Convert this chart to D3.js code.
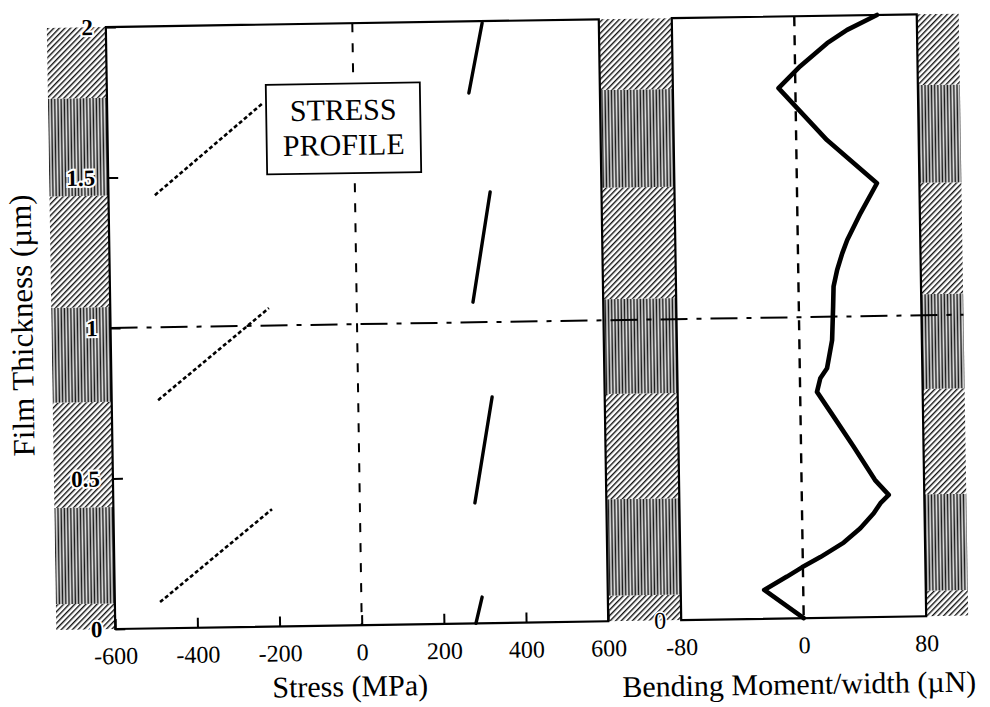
<!DOCTYPE html>
<html>
<head>
<meta charset="utf-8">
<script src="https://cdn.jsdelivr.net/npm/d3@7"></script>
<style>
  html, body { margin: 0; padding: 0; background: #fff; }
  svg { display: block; }
  text { font-family: "Liberation Serif", "Times New Roman", serif; fill: #000; }
</style>
</head>
<body>
<svg id="chart" width="990" height="707"></svg>
<script>
// ---------- data ----------
const stressTicks = [-600, -400, -200, 0, 200, 400, 600];
const thicknessTicks = [0, 0.5, 1, 1.5, 2];
const momentTicks = [-80, 0, 80];
const momentAxisLabels = [0];

// film layers (µm) and their material type
const layerBounds = [0, 0.085, 0.405, 0.755, 1.07, 1.44, 1.765, 2];
const layerType = ["diag", "vert", "diag", "vert", "diag", "vert", "diag"];

// compressive layers: stress (MPa) vs thickness (µm)
const compressiveStart = [[-490, 0.087], [-487, 0.758], [-487, 1.439]];
const compressiveEnd   = [[-214, 0.390], [-214, 1.058], [-220, 1.740]];
// tensile layers
const tensileStart = [[278, 0.0], [280, 0.40], [283, 1.067], [281, 1.762]];
const tensileEnd   = [[294, 0.087], [326, 0.751], [329, 1.432], [316, 1.994]];

// bending moment/width (µN) vs thickness (µm)
const momentDepth = [0, 0.096, 0.139, 0.169, 0.202, 0.249, 0.296, 0.345, 0.378, 0.405,
  0.455, 0.567, 0.668, 0.751, 0.796, 0.829, 0.922, 1.033, 1.100, 1.155, 1.210, 1.254,
  1.342, 1.441, 1.587, 1.762, 1.834, 1.909, 1.952, 2.0];
const momentValue = [0, -25.5, -10.5, -0.6, 11.5, 26.9, 37.9, 46.8, 51.3, 56.8,
  48, 34.4, 21.6, 11.0, 13.3, 17.8, 21.4, 22.4, 22.9, 25.4, 28.9, 32.3,
  41.2, 52.3, 20.1, -11.0, 3.4, 21.2, 34.4, 54];

const boxCorner1 = [-213, 1.80];
const boxCorner2 = [162, 1.502];

// ---------- scales ----------
const xL = d3.scaleLinear().domain([-600, 600]).range([111, 604]);
const xR = d3.scaleLinear().domain([-80, 80]).range([677, 922]);
const y = d3.scaleLinear().domain([0, 2]).range([623, 21]);

const svg = d3.select("#chart");
const defs = svg.append("defs");

// diagonal hatch
const pd = defs.append("pattern").attr("id", "diag")
  .attr("patternUnits", "userSpaceOnUse").attr("width", 4).attr("height", 10)
  .attr("patternTransform", "rotate(45)");
pd.append("rect").attr("width", 4).attr("height", 10).attr("fill", "#fff");
pd.append("rect").attr("x", 0).attr("width", 1.4).attr("height", 10).attr("fill", "#111");

// vertical stripes
const pv = defs.append("pattern").attr("id", "vert")
  .attr("patternUnits", "userSpaceOnUse").attr("width", 3.2).attr("height", 7);
pv.append("rect").attr("width", 3.2).attr("height", 7).attr("fill", "#e0e0e0");
pv.append("rect").attr("x", 0.4).attr("width", 1.5).attr("height", 7).attr("fill", "#1a1a1a");

const g = svg.append("g").attr("transform", "rotate(-0.9,495,353)");

// ---------- hatched film cross-sections ----------
const hatchRegions = [[52, xL(-600)], [xL(600), xR(-80)], [xR(80), 964]];
hatchRegions.forEach(([x0, x1]) => {
  layerType.forEach((t, i) => {
    g.append("rect")
      .attr("x", x0).attr("width", x1 - x0)
      .attr("y", y(layerBounds[i + 1]))
      .attr("height", y(layerBounds[i]) - y(layerBounds[i + 1]))
      .attr("fill", `url(#${t})`);
  });
});

// ---------- left panel ----------
g.append("rect").attr("x", xL(-600)).attr("y", y(2))
  .attr("width", xL(600) - xL(-600)).attr("height", y(0) - y(2))
  .attr("fill", "#fff");

// zero line
g.append("line").attr("x1", xL(0)).attr("x2", xL(0)).attr("y1", y(2)).attr("y2", y(0))
  .attr("stroke", "#000").attr("stroke-width", 2).attr("stroke-dasharray", "9,11");

// compressive segments (dotted)
compressiveStart.forEach((s, i) => {
  const e = compressiveEnd[i];
  g.append("line").attr("x1", xL(s[0])).attr("y1", y(s[1]))
    .attr("x2", xL(e[0])).attr("y2", y(e[1]))
    .attr("stroke", "#000").attr("stroke-width", 2.6).attr("stroke-dasharray", "4,2.5");
});
// tensile segments (solid)
tensileStart.forEach((s, i) => {
  const e = tensileEnd[i];
  g.append("line").attr("x1", xL(s[0])).attr("y1", y(s[1]))
    .attr("x2", xL(e[0])).attr("y2", y(e[1]))
    .attr("stroke", "#000").attr("stroke-width", 3.4).attr("stroke-linecap", "round");
});

// STRESS PROFILE box
const bx0 = xL(boxCorner1[0]), by0 = y(boxCorner1[1]);
const bx1 = xL(boxCorner2[0]), by1 = y(boxCorner2[1]);
g.append("rect").attr("x", bx0).attr("y", by0).attr("width", bx1 - bx0).attr("height", by1 - by0)
  .attr("fill", "#fff").attr("stroke", "#000").attr("stroke-width", 1.8);
g.append("text").attr("x", (bx0 + bx1) / 2).attr("y", by0 + 36.5)
  .attr("text-anchor", "middle").attr("font-size", 30).text("STRESS");
g.append("text").attr("x", (bx0 + bx1) / 2).attr("y", by0 + 71.5)
  .attr("text-anchor", "middle").attr("font-size", 30).text("PROFILE");

// frame
g.append("rect").attr("x", xL(-600)).attr("y", y(2))
  .attr("width", xL(600) - xL(-600)).attr("height", y(0) - y(2))
  .attr("fill", "none").attr("stroke", "#000").attr("stroke-width", 2.2);

// axes
const axL = g.append("g").attr("transform", `translate(${xL(-600)},0)`)
  .call(d3.axisLeft(y).tickValues(thicknessTicks).tickSize(-10).tickPadding(13)
    .tickFormat(d => String(d)));
axL.select(".domain").remove();
axL.selectAll("line").attr("stroke", "#000").attr("stroke-width", 2);
axL.selectAll("text").attr("font-size", 23).attr("font-weight", "bold")
  .attr("font-family", "Liberation Serif, serif")
  .attr("stroke", "#fff").attr("stroke-width", 4).attr("paint-order", "stroke");

const axB = g.append("g").attr("transform", `translate(0,${y(0)})`)
  .call(d3.axisBottom(xL).tickValues(stressTicks).tickSize(-10).tickPadding(18)
    .tickFormat(d => String(d)));
axB.select(".domain").remove();
axB.selectAll("line").attr("stroke", "#000").attr("stroke-width", 2);
axB.selectAll("text").attr("font-size", 24).attr("font-family", "Liberation Serif, serif");

// ---------- right panel ----------
g.append("rect").attr("x", xR(-80)).attr("y", y(2))
  .attr("width", xR(80) - xR(-80)).attr("height", y(0) - y(2))
  .attr("fill", "#fff");
g.append("line").attr("x1", xR(0)).attr("x2", xR(0)).attr("y1", y(2)).attr("y2", y(0))
  .attr("stroke", "#000").attr("stroke-width", 2.4).attr("stroke-dasharray", "10,9");

const momentPts = momentDepth.map((d, i) => [momentValue[i], d]);
g.append("path").datum(momentPts)
  .attr("d", d3.line().x(d => xR(d[0])).y(d => y(d[1])))
  .attr("fill", "none").attr("stroke", "#000").attr("stroke-width", 4.6)
  .attr("stroke-linejoin", "round").attr("stroke-linecap", "round");

g.append("rect").attr("x", xR(-80)).attr("y", y(2))
  .attr("width", xR(80) - xR(-80)).attr("height", y(0) - y(2))
  .attr("fill", "none").attr("stroke", "#000").attr("stroke-width", 2.2);

const axRB = g.append("g").attr("transform", `translate(0,${y(0)})`)
  .call(d3.axisBottom(xR).tickValues(momentTicks).tickSize(0).tickPadding(18)
    .tickFormat(d => String(d)));
axRB.select(".domain").remove();
axRB.selectAll("text").attr("font-size", 24).attr("font-family", "Liberation Serif, serif");

const axRL = g.append("g").attr("transform", `translate(${xR(-80)},0)`)
  .call(d3.axisLeft(y).tickValues(momentAxisLabels).tickSize(0).tickPadding(15)
    .tickFormat(d => String(d)));
axRL.select(".domain").remove();
axRL.selectAll("text").attr("font-size", 24).attr("font-family", "Liberation Serif, serif")
  .attr("stroke", "#fff").attr("stroke-width", 3).attr("paint-order", "stroke");

// ---------- reference line at 1 µm (dash-dot) ----------
g.append("line").attr("x1", xL(-600)).attr("x2", 964).attr("y1", y(1)).attr("y2", y(1))
  .attr("stroke", "#000").attr("stroke-width", 2).attr("stroke-dasharray", "27,9,5,9");

// ---------- axis titles ----------
g.append("text").attr("x", 345).attr("y", 694).attr("text-anchor", "middle")
  .attr("font-size", 30).text("Stress (MPa)");
g.append("text").attr("x", 794).attr("y", 699).attr("text-anchor", "middle")
  .attr("font-size", 30).text("Bending Moment/width (\u00B5N)");
g.append("text").attr("transform", "translate(33,318) rotate(-90)")
  .attr("text-anchor", "middle").attr("font-size", 31).text("Film Thickness (\u00B5m)");
</script>
</body>
</html>
